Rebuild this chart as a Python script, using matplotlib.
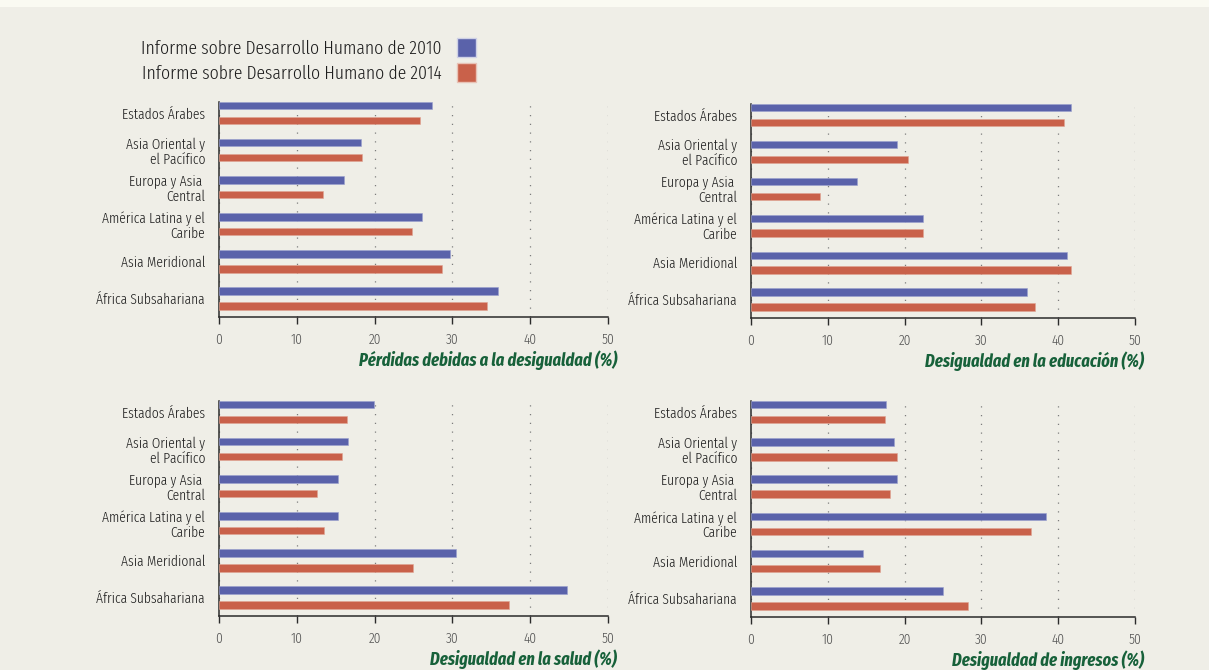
import numpy as np
import matplotlib
matplotlib.use("Agg")
import matplotlib.pyplot as plt
from matplotlib.patches import Patch, Rectangle

# regions, top to bottom
regions = [
    "Estados Árabes",
    "Asia Oriental y\nel Pacífico",
    "Europa y Asia \nCentral",
    "América Latina y el\nCaribe",
    "Asia Meridional",
    "África Subsahariana",
]

# inequality figures (%), 2010 report vs 2014 report
loss_2010 = [27.4, 18.2, 16.1, 26.1, 29.7, 35.8]
loss_2014 = [25.8, 18.4, 13.4, 24.8, 28.6, 34.4]
edu_2010 = [41.7, 19.0, 13.8, 22.4, 41.1, 35.9]
edu_2014 = [40.8, 20.4, 9.0, 22.4, 41.7, 37.0]
health_2010 = [19.9, 16.6, 15.3, 15.3, 30.5, 44.7]
health_2014 = [16.5, 15.8, 12.6, 13.5, 24.9, 37.3]
income_2010 = [17.6, 18.6, 19.0, 38.4, 14.6, 25.0]
income_2014 = [17.4, 19.0, 18.1, 36.4, 16.8, 28.2]

titles = [
    "Pérdidas debidas a la desigualdad (%)",
    "Desigualdad en la educación (%)",
    "Desigualdad en la salud (%)",
    "Desigualdad de ingresos (%)",
]
series = [(loss_2010, loss_2014), (edu_2010, edu_2014),
          (health_2010, health_2014), (income_2010, income_2014)]
legend_labels = ["Informe sobre Desarrollo Humano de 2010",
                 "Informe sobre Desarrollo Humano de 2014"]

BLUE = "#5a62aa"
ORANGE = "#c9614a"
GREEN = "#17613a"
BG = "#efeee7"
TEXT = "#1e1e1e"

# narrow faces; DejaVu Sans Condensed as the fallback
plt.rcParams["font.family"] = ["Fira Sans Extra Condensed", "DejaVu Sans"]
plt.rcParams["font.stretch"] = "condensed"

fig = plt.figure(figsize=(12.09, 6.70), dpi=100, facecolor=BG)
fig.patches.append(Rectangle((0, 0.989), 1, 0.011, transform=fig.transFigure,
                             facecolor="#fafaf2", edgecolor="none", zorder=0))

W, H = 1209, 670
# axes boxes in pixels: left, top, right, bottom
boxes = [(219, 102, 608, 317), (751, 104, 1135, 318),
         (219, 401, 608, 616), (751, 401, 1135, 617)]

y = np.arange(len(regions))
for (l, t, r, b), title, (s10, s14) in zip(boxes, titles, series):
    ax = fig.add_axes([l / W, 1 - b / H, (r - l) / W, (b - t) / H])
    ax.set_facecolor(BG)
    ax.barh(y - 0.2, s10, height=0.2, color=BLUE, edgecolor="#9aa0cf", linewidth=0.4, zorder=3)
    ax.barh(y + 0.2, s14, height=0.2, color=ORANGE, edgecolor="#e0a493", linewidth=0.4, zorder=3)
    ax.set_xlim(0, 50)
    ax.set_ylim(5.5, -0.3)
    ax.set_xticks(np.arange(0, 51, 10))
    ax.set_yticks(y)
    ax.set_yticklabels(regions, fontsize=10.6, color=TEXT, linespacing=1.05, fontweight=300)
    ax.tick_params(axis="y", length=0, pad=10)
    ax.tick_params(axis="x", length=5, width=1, color="#2b2b2b", labelsize=10.5,
                   labelcolor="#555555", pad=6, direction="out")
    for lab in ax.get_xticklabels():
        lab.set_fontweight(300)
    for side in ("top", "right"):
        ax.spines[side].set_visible(False)
    for side in ("left", "bottom"):
        ax.spines[side].set_color("#2b2b2b")
        ax.spines[side].set_linewidth(1.1)
    ax.grid(axis="x", color="#7d7d7d", linestyle=(0, (1, 6)), linewidth=0.9, zorder=1)
    ax.text(1 + 9 / (r - l), -43 / (b - t), title, transform=ax.transAxes,
            ha="right", va="center", fontsize=12.8, fontweight="bold",
            fontstyle="italic", color=GREEN)

handles = [Patch(facecolor=BLUE, edgecolor="#cfd1e6"), Patch(facecolor=ORANGE, edgecolor="#e8c2b6")]
fig.legend(handles, legend_labels, loc="upper left", bbox_to_anchor=(124 / W, 1 - 21 / H),
           frameon=False, markerfirst=False, handlelength=1.0,
           handleheight=1.1, handletextpad=0.8, labelspacing=0.3, labelcolor=TEXT,
           prop={"weight": 300, "size": 13.8})

fig.savefig("out.png", dpi=100, facecolor=BG)
